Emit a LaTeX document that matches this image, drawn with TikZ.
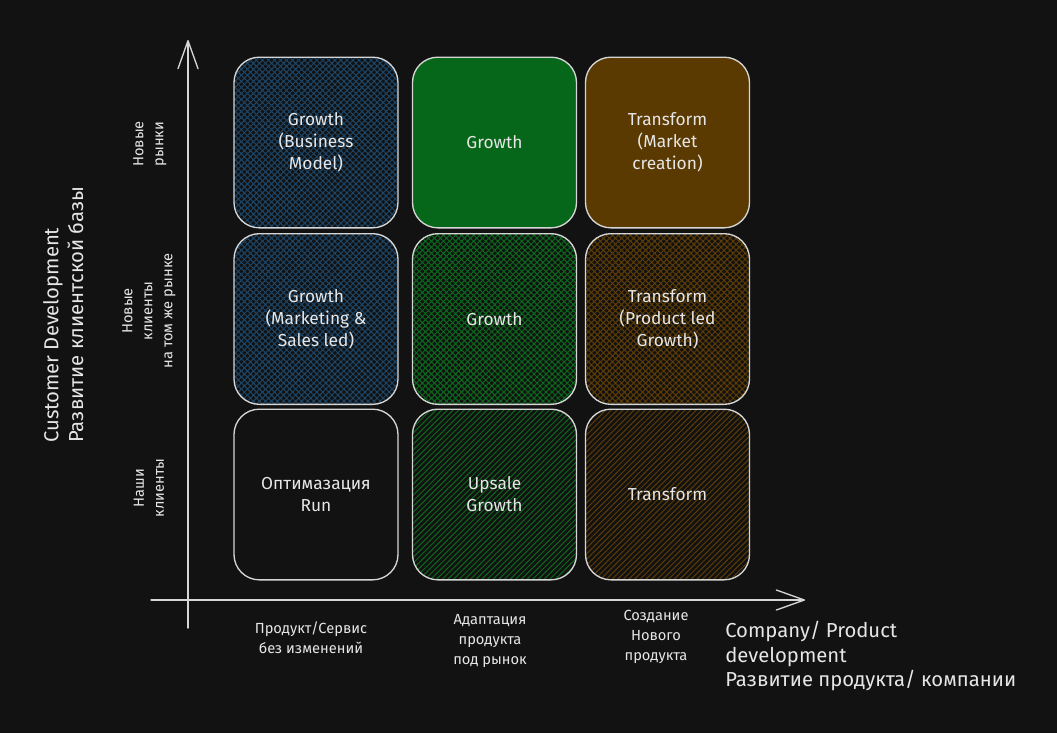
\documentclass[tikz,border=0pt]{standalone}
\usepackage{fontspec}
\setmainfont{Fira Sans}
\usetikzlibrary{arrows.meta,patterns.meta}
\definecolor{bg}{HTML}{121212}
\definecolor{edge}{HTML}{D6D6D6}
\definecolor{txt}{HTML}{E6E6E6}
\definecolor{bluel}{HTML}{1C4669}
\definecolor{greenS}{HTML}{066619}
\definecolor{greenl}{HTML}{0A6A1C}
\definecolor{orangeS}{HTML}{5B3A02}
\definecolor{orangel}{HTML}{5E3C03}
\begin{document}
\begin{tikzpicture}[x=0.75pt,y=-0.75pt,
  cell/.style={draw=edge, line width=1pt, rounded corners=19pt,
    minimum width=123pt, minimum height=128pt, inner sep=0pt,
    text=txt, align=center, font=\fontsize{13}{16.5}\selectfont},
  crossfill/.style={pattern={Hatch[angle=45,distance=3.2pt,line width=0.75pt]}, pattern color=#1},
  linefill/.style={pattern={Lines[angle=45,distance=3pt,line width=0.75pt]}, pattern color=#1},
  axis/.style={draw=edge, line width=1pt, line cap=round,
    -{Straight Barb[length=21pt,width=15pt,line width=1pt,round]}},
  small/.style={text=txt, align=center, inner sep=0pt, font=\fontsize{11}{15}\selectfont},
  big/.style={text=txt, align=left, inner sep=0pt, font=\fontsize{15.2}{18.5}\selectfont}
]
\fill[bg] (0,0) rectangle (1057,733);
\useasboundingbox (0,0) rectangle (1057,733);

% axes
\coordinate (yb) at (188,628);
\coordinate (yt) at (188,40);
\coordinate (xl) at (151,600);
\coordinate (xr) at (805,600);
\draw[axis] (yb) -- (yt);
\draw[axis] (xl) -- (xr);

% cells
\node[cell, crossfill=bluel] (c11) at (316,142.5) {Growth\\(Business\\Model)};
\node[cell, fill=greenS] (c12) at (494.5,142.5) {Growth};
\node[cell, fill=orangeS] (c13) at (667.5,142.5) {Transform\\(Market\\creation)};

\node[cell, crossfill=bluel] (c21) at (316,319) {Growth\\(Marketing \&\\Sales led)};
\node[cell, crossfill=greenl] (c22) at (494.5,319) {Growth};
\node[cell, crossfill=orangel] (c23) at (667.5,319) {Transform\\(Product led\\Growth)};

\node[cell] (c31) at (316,494.5) {Оптимазация\\Run};
\node[cell, linefill=greenl] (c32) at (494.5,494.5) {Upsale\\Growth};
\node[cell, linefill=orangel] (c33) at (667.5,494.5) {Transform};

% bottom labels
\node[small] (b1) at (311,637.5) {Продукт/Сервис\\без изменений};
\node[small] (b2) at (490,640.5) {Адаптация\\продукта\\под рынок};
\node[small] (b3) at (656,637) {Создание\\Нового\\продукта};
\node[big, anchor=west] (xt) at (725,656) {Company/ Product\\development\\Развитие продукта/ компании};

% left labels
\node[small, rotate=90] (l1) at (150,144) {Новые\\рынки};
\node[small, rotate=90] (l2) at (149,311) {Новые\\клиенты\\на том же рынке};
\node[small, rotate=90] (l3) at (149,488) {Наши\\клиенты};
\node[big, rotate=90, anchor=north west] (yt2) at (43,443) {Customer Development\\Развитие клиентской базы};
\end{tikzpicture}
\end{document}
